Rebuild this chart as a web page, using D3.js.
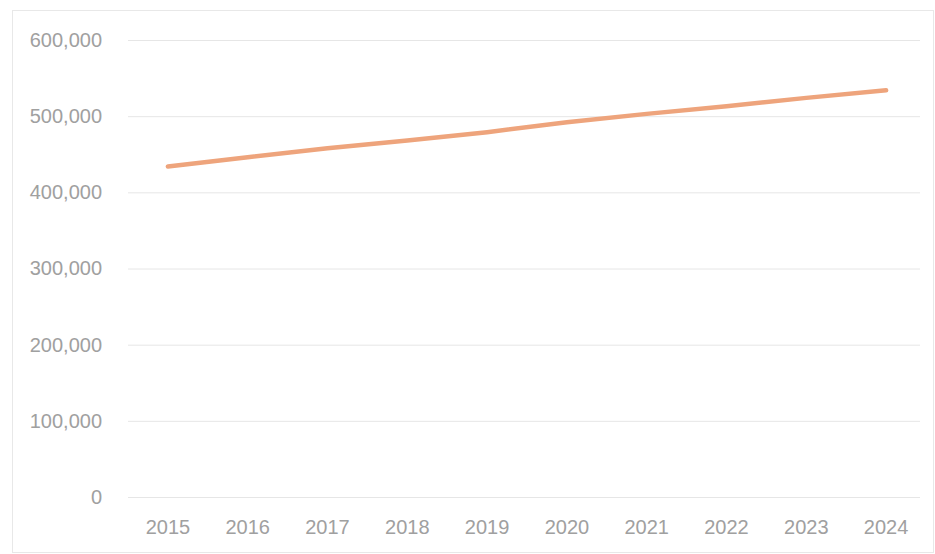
<!DOCTYPE html>
<html>
<head>
<meta charset="utf-8">
<script src="https://cdn.jsdelivr.net/npm/d3@7"></script>
<style>
  body { margin: 0; background: #fff; }
  svg { display: block; font-family: "Open Sans", sans-serif; }
</style>
</head>
<body>
<section id="chart"></section>
<script>
// data
var years = ['2015', '2016', '2017', '2018', '2019', '2020', '2021', '2022', '2023', '2024'];
var values = [434000, 446000, 458000, 468000, 479000, 492000, 503000, 513000, 524000, 534000];
var yTicks = [0, 100000, 200000, 300000, 400000, 500000, 600000];

var W = 935, H = 554;
var svg = d3.select("#chart")
            .append("svg")
            .attr("width", W)
            .attr("height", H);

// outer chart border
svg.append("rect")
   .attr("x", 12.5)
   .attr("y", 10.5)
   .attr("width", W - 14)
   .attr("height", H - 12)
   .attr("fill", "none")
   .attr("stroke", "#e8e8e8");

let plotLeft = 128, plotRight = 926, plotTop = 40, plotBottom = 497;

var x = d3.scaleBand()
          .domain(years)
          .range([plotLeft, plotRight]);

var y = d3.scaleLinear()
          .domain([0, 600000])
          .range([plotBottom, plotTop]);

// gridlines
svg.append("g")
   .selectAll("line")
   .data(yTicks)
   .join("line")
   .attr("x1", plotLeft)
   .attr("x2", plotRight - 6)
   .attr("y1", d => y(d) + 0.5)
   .attr("y2", d => y(d) + 0.5)
   .attr("stroke", "#e6e6e6")
   .attr("stroke-width", 1);

// y axis labels
var yAxis = svg.append("g")
   .attr("transform", "translate(" + (plotLeft - 26) + ",0)")
   .call(d3.axisLeft(y).tickValues(yTicks).tickFormat(d3.format(",")).tickSize(0).tickPadding(0));
yAxis.select(".domain").remove();
yAxis.selectAll("text")
     .attr("fill", "#a0a0a0")
     .style("font-size", "20px");

// x axis labels
var xAxis = svg.append("g")
   .attr("transform", "translate(0," + (plotBottom + 19) + ")")
   .call(d3.axisBottom(x).tickSize(0).tickPadding(4));
xAxis.select(".domain").remove();
xAxis.selectAll("text")
     .attr("fill", "#a0a0a0")
     .style("font-size", "20px");

// the line
var line = d3.line()
             .x((d, i) => x(years[i]) + x.bandwidth() / 2)
             .y(d => y(d));

svg.append("path")
   .datum(values)
   .attr("d", line)
   .attr("fill", "none")
   .attr("stroke", "#eea47c")
   .attr("stroke-width", 4.5)
   .attr("stroke-linecap", "round")
   .attr("stroke-linejoin", "round");
</script>
</body>
</html>
